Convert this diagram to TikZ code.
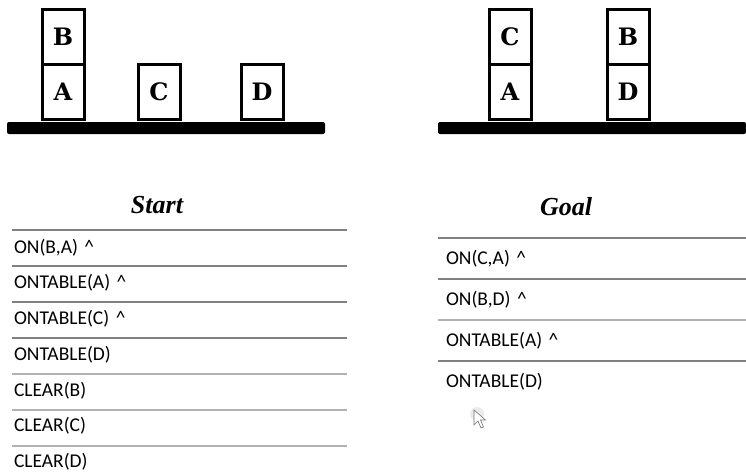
\documentclass[tikz,border=0pt]{standalone}
\usepackage{fontspec}
\setmainfont{Carlito}
\newfontfamily\blockfont{DejaVu Serif}
\newfontfamily\titlefont{Liberation Serif}
\usetikzlibrary{positioning}

\tikzset{
  block/.style={draw,line width=3pt,outer sep=0pt,inner sep=0pt,minimum width=42pt,minimum height=55pt,font=\blockfont\bfseries\fontsize{24}{24}\selectfont},
  table/.style={fill=black,rounded corners=2pt},
  title/.style={font=\titlefont\bfseries\itshape\fontsize{26}{26}\selectfont},
  fact/.style={inner sep=0pt,text width=300pt,align=left,font=\fontsize{19.5}{19.5}\selectfont},
  darkrule/.style={draw=black!50,line width=2.4pt},
  lightrule/.style={draw=black!30,line width=2pt}
}

\begin{document}
\begin{tikzpicture}[x=1pt,y=-1pt,node distance=35.7pt]
\useasboundingbox (0,0) rectangle (746,474);

\fill[table] (7,122) rectangle (325,134);
\node[block] (sa) at (63,92) {A};
\node[block,above=0pt of sa] (sb) {B};
\node[block] (sc) at (159,92) {C};
\node[block] (sd) at (262,92) {D};

\fill[table] (438,122) rectangle (746,134);
\node[block] (ga) at (510,92) {A};
\node[block,above=0pt of ga] (gc) {C};
\node[block] (gd) at (628,92) {D};
\node[block,above=0pt of gd] (gb) {B};

\node[title] (start) at (157,205) {Start};
\node[title] (goal) at (566,207) {Goal};

\draw[darkrule] (12,230) -- (347,230);
\draw[darkrule] (12,266) -- (347,266);
\draw[darkrule] (12,302) -- (347,302);
\draw[darkrule] (12,338) -- (347,338);
\draw[lightrule] (12,374) -- (347,374);
\draw[lightrule] (12,410) -- (347,410);
\draw[lightrule] (12,446) -- (347,446);

\node[fact] (s1) at (164,247.5) {ON(B,A) \^{}};
\node[fact,below of=s1] (s2) {ONTABLE(A) \^{}};
\node[fact,below of=s2] (s3) {ONTABLE(C) \^{}};
\node[fact,below of=s3] (s4) {ONTABLE(D)};
\node[fact,below of=s4] (s5) {CLEAR(B)};
\node[fact,below of=s5] (s6) {CLEAR(C)};
\node[fact,below of=s6] (s7) {CLEAR(D)};

\draw[darkrule] (438,238) -- (746,238);
\draw[darkrule] (438,279) -- (746,279);
\draw[lightrule] (438,320) -- (746,320);
\draw[darkrule] (438,361) -- (746,361);

\node[fact] (g1) at (596,259) {ON(C,A) \^{}};
\node[fact,below of=g1,node distance=41pt] (g2) {ON(B,D) \^{}};
\node[fact,below of=g2,node distance=41pt] (g3) {ONTABLE(A) \^{}};
\node[fact,below of=g3,node distance=41pt] (g4) {ONTABLE(D)};

\fill[black!8] (477,414) circle (7);
\draw[black!55,line width=0.6pt,fill=white] (474,410) -- (474,425) -- (478,421) -- (481,428) -- (483.5,427) -- (480.5,420) -- (485.5,420) -- cycle;
\end{tikzpicture}
\end{document}
